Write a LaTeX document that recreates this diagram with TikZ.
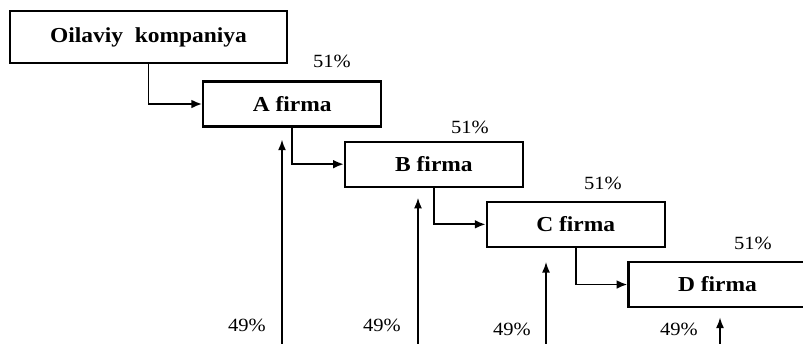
\documentclass[tikz,border=0pt]{standalone}
\usepackage{fontspec}
\setmainfont{Liberation Serif}[FakeStretch=1.1]
\usetikzlibrary{arrows.meta}

\begin{document}
\begin{tikzpicture}[
        x=0.75pt, y=-0.75pt, % 1 пиксель
        level/.style = {grow=-23, level distance=115.5pt}, % Лесенка вправо вниз
        level 1/.style = {grow=-25.6, level distance=118.9pt},
        edge from parent/.style = {draw, -{Latex[length=8pt,width=6.5pt]}, line width=1.4pt},
        edge from parent path = {(\tikzparentnode.south) |- (\tikzchildnode.west)},
        firm/.style={rectangle, draw, line width=1.6pt, minimum width=133.5pt, minimum height=33.75pt,
            font=\fontsize{16}{18}\selectfont\bfseries}, % Стиль фирм
        pct/.style={font=\fontsize{14}{16}\selectfont},
        up/.style={-{Latex[length=8pt,width=6pt]}, line width=1.2pt},
    ]
    \useasboundingbox (0,0) rectangle (803,343);

    \node[firm, minimum width=207.75pt, minimum height=39pt] (oila) at (148.5,37) {Oilaviy~ kompaniya}
    child {node[firm] (a) {A firma}
            child {node[firm] (b) {B firma}
                    child {node[firm] (c) {C firma}
                            child {node[firm] (d) {D firma}}}}};

    % 51% сверху
    \node[pct] (pa) at (332,61) {51\%};
    \node[pct] (pb) at (470,127) {51\%};
    \node[pct] (pc) at (603,183) {51\%};
    \node[pct] (pd) at (753,243) {51\%};

    % 49% снизу
    \foreach \n/\x/\g/\lx/\ly in {a/282/9/247/325, b/418/7.5/382/325, c/546/10.5/512/329, d/720/7/679/329} {
        \coordinate (i\n) at (\x,346);
        \draw[up, shorten >=\g pt] (i\n) -- (i\n |- \n.south);
        \node[pct] (q\n) at (\lx,\ly) {49\%};
    }
\end{tikzpicture}
\end{document}
